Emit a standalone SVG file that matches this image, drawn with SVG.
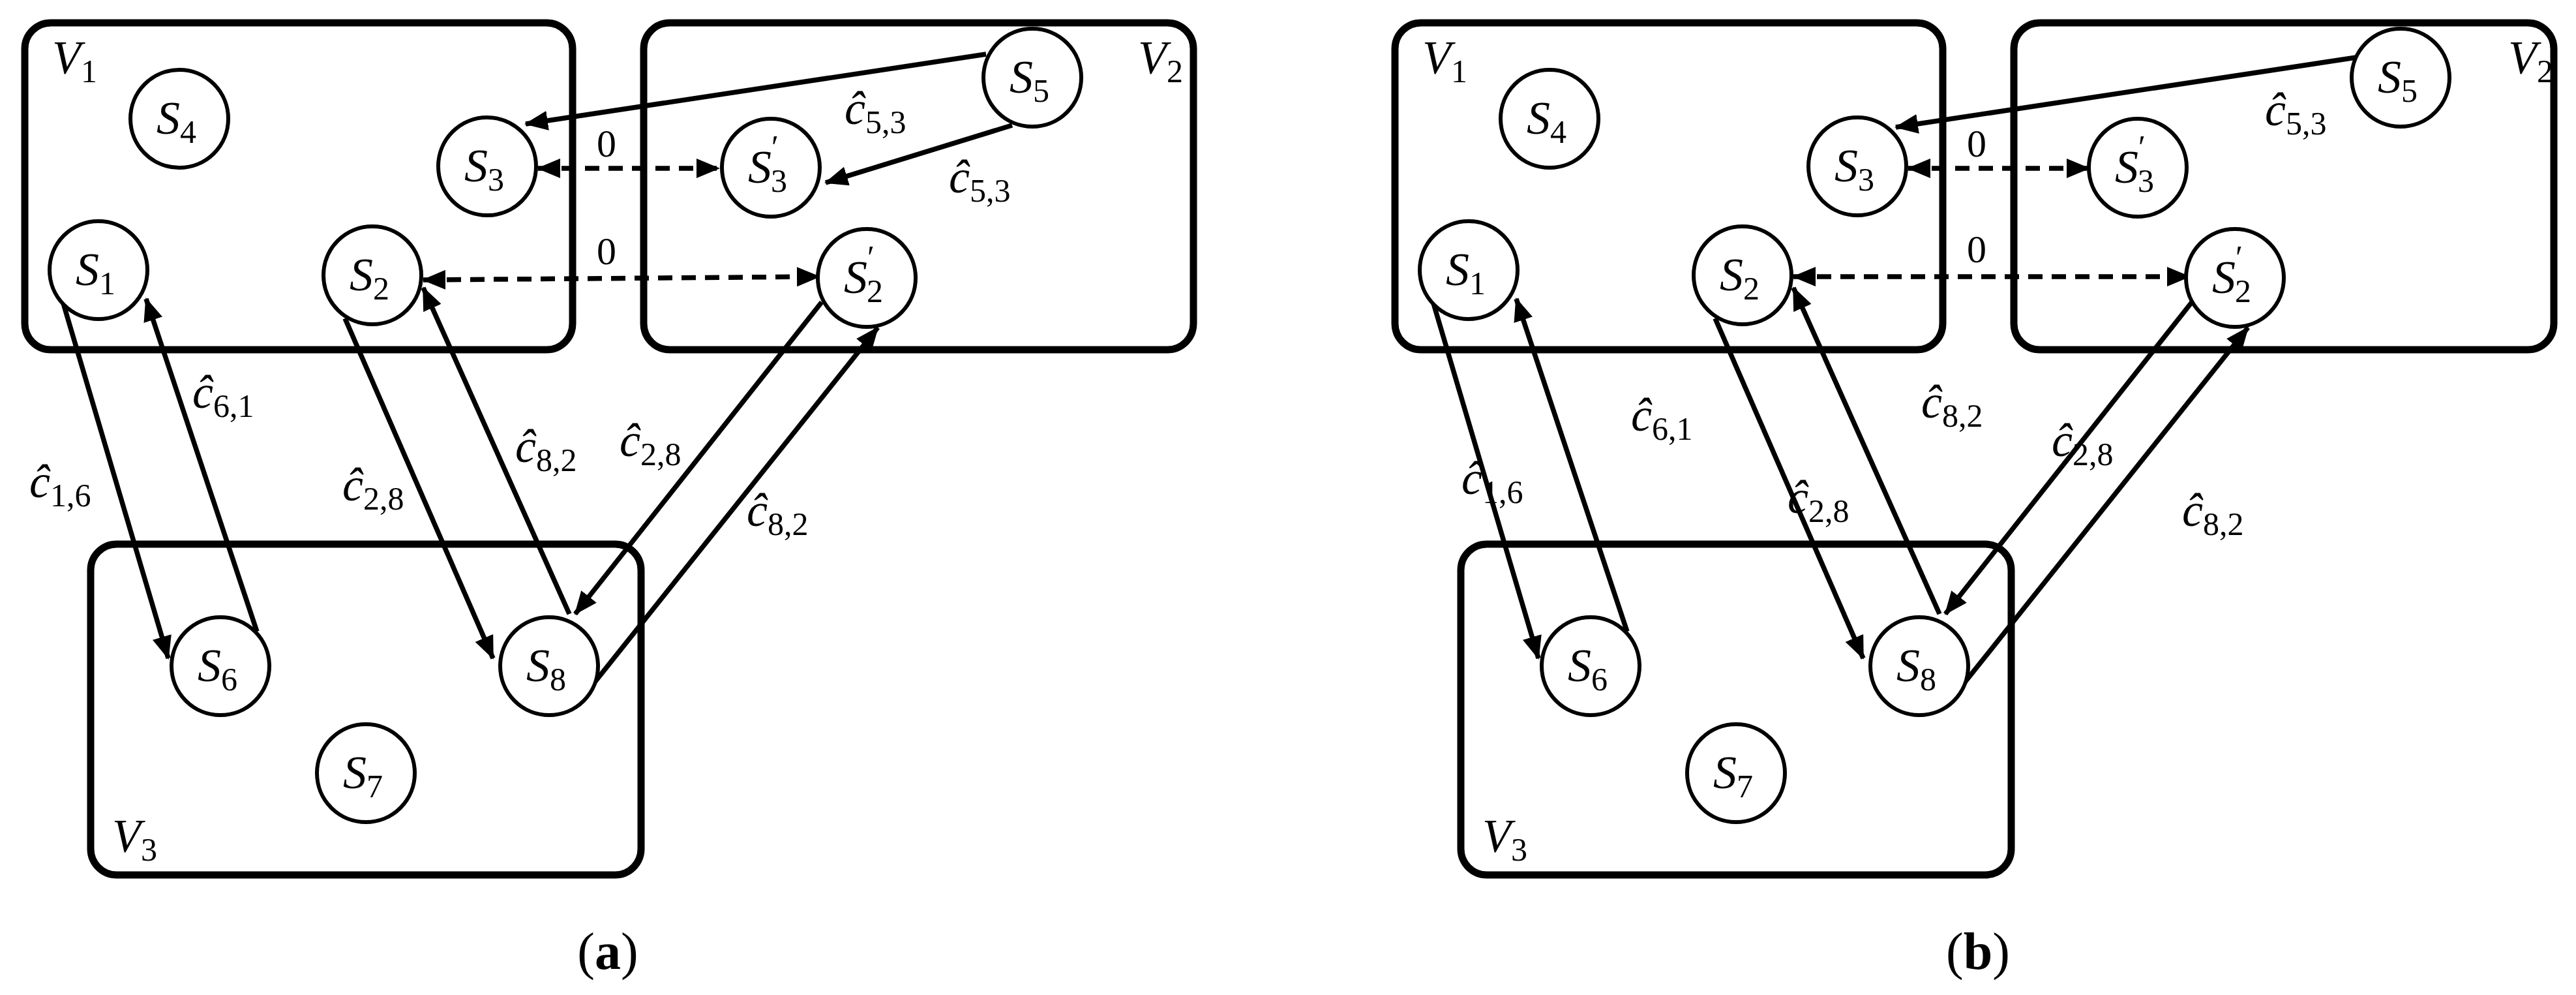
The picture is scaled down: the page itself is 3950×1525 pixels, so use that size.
<svg xmlns="http://www.w3.org/2000/svg" width="3950" height="1525" viewBox="0 0 3950 1525">
<style>
.box{fill:none;stroke:#000;stroke-width:11}
.nd{fill:#fff;stroke:#000;stroke-width:6}
.t{font-family:"Liberation Serif",serif;font-style:italic;font-size:72px;fill:#000}
.sb{font-style:normal;font-size:50px}
.e{fill:none;stroke:#000;stroke-width:7.5;marker-end:url(#ah)}
.d{fill:none;stroke:#000;stroke-width:7.5;stroke-dasharray:22 14;marker-end:url(#ah);marker-start:url(#ah)}
.cap{font-family:"Liberation Serif",serif;font-size:80px;fill:#000}
</style>
<defs>
<marker id="ah" markerUnits="userSpaceOnUse" markerWidth="36" markerHeight="30" refX="34" refY="15" orient="auto-start-reverse"><path d="M0,0 L36,15 L0,30 z" fill="#000"/></marker>
</defs>
<g id="panel-a">
<g id="a-sets">
<rect id="a-V1" class="box" x="38" y="35" width="840" height="501" rx="40"/>
<rect id="a-V2" class="box" x="987" y="35" width="843" height="501" rx="40"/>
<rect id="a-V3" class="box" x="139" y="834" width="844" height="507" rx="40"/>
<text class="t" x="80" y="112">V<tspan class="sb" dy="14">1</tspan></text>
<text class="t" x="1745" y="112">V<tspan class="sb" dy="14">2</tspan></text>
<text class="t" x="172" y="1305">V<tspan class="sb" dy="14">3</tspan></text>
</g>
<g id="a-edges">
<line class="e" x1="1512" y1="83" x2="806" y2="190"/>
<line class="e" x1="1552" y1="192" x2="1266" y2="280"/>
<line class="d" x1="825" y1="258" x2="1102" y2="258"/>
<line class="d" x1="649" y1="429" x2="1256" y2="424"/>
<line class="e" x1="95" y1="458" x2="258" y2="1009"/>
<line class="e" x1="394" y1="968" x2="224" y2="458"/>
<line class="e" x1="529" y1="488" x2="756" y2="1009"/>
<line class="e" x1="873" y1="941" x2="649" y2="441"/>
<line class="e" x1="1260" y1="463" x2="882" y2="941"/>
<line class="e" x1="910" y1="1048" x2="1346" y2="502"/>
</g>
<g id="a-labels">
<text class="t" x="1295" y="190">ĉ<tspan class="sb" dy="14">5,3</tspan></text>
<text class="t" x="1455" y="295">ĉ<tspan class="sb" dy="14">5,3</tspan></text>
<text class="t" x="915" y="240" style="font-style:normal;font-size:60px">0</text>
<text class="t" x="915" y="405" style="font-style:normal;font-size:60px">0</text>
<text class="t" x="295" y="625">ĉ<tspan class="sb" dy="14">6,1</tspan></text>
<text class="t" x="45" y="762">ĉ<tspan class="sb" dy="14">1,6</tspan></text>
<text class="t" x="525" y="767">ĉ<tspan class="sb" dy="14">2,8</tspan></text>
<text class="t" x="790" y="708">ĉ<tspan class="sb" dy="14">8,2</tspan></text>
<text class="t" x="950" y="699">ĉ<tspan class="sb" dy="14">2,8</tspan></text>
<text class="t" x="1145" y="806">ĉ<tspan class="sb" dy="14">8,2</tspan></text>
</g>
<g id="a-S4"><circle class="nd" cx="275" cy="182" r="75"/><text class="t" x="240" y="205">S<tspan class="sb" dy="14">4</tspan></text></g>
<g id="a-S3"><circle class="nd" cx="747" cy="255" r="75"/><text class="t" x="712" y="278">S<tspan class="sb" dy="14">3</tspan></text></g>
<g id="a-S3p"><circle class="nd" cx="1182" cy="257" r="75"/><text class="t" x="1147" y="280">S<tspan class="sb" dy="-38">′</tspan><tspan class="sb" dx="-12" dy="52">3</tspan></text></g>
<g id="a-S5"><circle class="nd" cx="1583" cy="119" r="75"/><text class="t" x="1548" y="142">S<tspan class="sb" dy="14">5</tspan></text></g>
<g id="a-S1"><circle class="nd" cx="151" cy="414" r="75"/><text class="t" x="116" y="437">S<tspan class="sb" dy="14">1</tspan></text></g>
<g id="a-S2"><circle class="nd" cx="571" cy="422" r="75"/><text class="t" x="536" y="445">S<tspan class="sb" dy="14">2</tspan></text></g>
<g id="a-S2p"><circle class="nd" cx="1329" cy="426" r="75"/><text class="t" x="1294" y="449">S<tspan class="sb" dy="-38">′</tspan><tspan class="sb" dx="-12" dy="52">2</tspan></text></g>
<g id="a-S6"><circle class="nd" cx="338" cy="1021" r="75"/><text class="t" x="303" y="1044">S<tspan class="sb" dy="14">6</tspan></text></g>
<g id="a-S8"><circle class="nd" cx="842" cy="1021" r="75"/><text class="t" x="807" y="1044">S<tspan class="sb" dy="14">8</tspan></text></g>
<g id="a-S7"><circle class="nd" cx="561" cy="1185" r="75"/><text class="t" x="526" y="1208">S<tspan class="sb" dy="14">7</tspan></text></g>
<text class="cap" x="932" y="1485" text-anchor="middle">(<tspan font-weight="bold">a</tspan>)</text>
</g>
<g id="panel-b" transform="translate(2101,0)">
<g id="b-sets">
<rect id="b-V1" class="box" x="38" y="35" width="840" height="501" rx="40"/>
<rect id="b-V2" class="box" x="987" y="35" width="828" height="501" rx="40"/>
<rect id="b-V3" class="box" x="139" y="834" width="844" height="507" rx="40"/>
<text class="t" x="80" y="112">V<tspan class="sb" dy="14">1</tspan></text>
<text class="t" x="1745" y="112">V<tspan class="sb" dy="14">2</tspan></text>
<text class="t" x="172" y="1305">V<tspan class="sb" dy="14">3</tspan></text>
</g>
<g id="b-edges">
<line class="e" x1="1512" y1="88" x2="806" y2="195"/>
<line class="d" x1="825" y1="258" x2="1102" y2="258"/>
<line class="d" x1="649" y1="424" x2="1256" y2="424"/>
<line class="e" x1="95" y1="458" x2="258" y2="1009"/>
<line class="e" x1="394" y1="968" x2="224" y2="458"/>
<line class="e" x1="529" y1="488" x2="756" y2="1009"/>
<line class="e" x1="873" y1="941" x2="649" y2="441"/>
<line class="e" x1="1260" y1="463" x2="882" y2="941"/>
<line class="e" x1="910" y1="1048" x2="1346" y2="502"/>
</g>
<g id="b-labels">
<text class="t" x="1372" y="192">ĉ<tspan class="sb" dy="14">5,3</tspan></text>
<text class="t" x="915" y="240" style="font-style:normal;font-size:60px">0</text>
<text class="t" x="915" y="402" style="font-style:normal;font-size:60px">0</text>
<text class="t" x="400" y="660">ĉ<tspan class="sb" dy="14">6,1</tspan></text>
<text class="t" x="140" y="757">ĉ<tspan class="sb" dy="14">1,6</tspan></text>
<text class="t" x="640" y="786">ĉ<tspan class="sb" dy="14">2,8</tspan></text>
<text class="t" x="845" y="640">ĉ<tspan class="sb" dy="14">8,2</tspan></text>
<text class="t" x="1045" y="699">ĉ<tspan class="sb" dy="14">2,8</tspan></text>
<text class="t" x="1245" y="806">ĉ<tspan class="sb" dy="14">8,2</tspan></text>
</g>
<g id="b-S4"><circle class="nd" cx="275" cy="182" r="75"/><text class="t" x="240" y="205">S<tspan class="sb" dy="14">4</tspan></text></g>
<g id="b-S3"><circle class="nd" cx="747" cy="255" r="75"/><text class="t" x="712" y="278">S<tspan class="sb" dy="14">3</tspan></text></g>
<g id="b-S3p"><circle class="nd" cx="1177" cy="257" r="75"/><text class="t" x="1142" y="280">S<tspan class="sb" dy="-38">′</tspan><tspan class="sb" dx="-12" dy="52">3</tspan></text></g>
<g id="b-S5"><circle class="nd" cx="1580" cy="119" r="75"/><text class="t" x="1545" y="142">S<tspan class="sb" dy="14">5</tspan></text></g>
<g id="b-S1"><circle class="nd" cx="151" cy="414" r="75"/><text class="t" x="116" y="437">S<tspan class="sb" dy="14">1</tspan></text></g>
<g id="b-S2"><circle class="nd" cx="571" cy="422" r="75"/><text class="t" x="536" y="445">S<tspan class="sb" dy="14">2</tspan></text></g>
<g id="b-S2p"><circle class="nd" cx="1326" cy="426" r="75"/><text class="t" x="1291" y="449">S<tspan class="sb" dy="-38">′</tspan><tspan class="sb" dx="-12" dy="52">2</tspan></text></g>
<g id="b-S6"><circle class="nd" cx="338" cy="1021" r="75"/><text class="t" x="303" y="1044">S<tspan class="sb" dy="14">6</tspan></text></g>
<g id="b-S8"><circle class="nd" cx="842" cy="1021" r="75"/><text class="t" x="807" y="1044">S<tspan class="sb" dy="14">8</tspan></text></g>
<g id="b-S7"><circle class="nd" cx="561" cy="1185" r="75"/><text class="t" x="526" y="1208">S<tspan class="sb" dy="14">7</tspan></text></g>
<text class="cap" x="932" y="1485" text-anchor="middle">(<tspan font-weight="bold">b</tspan>)</text>
</g>
</svg>
